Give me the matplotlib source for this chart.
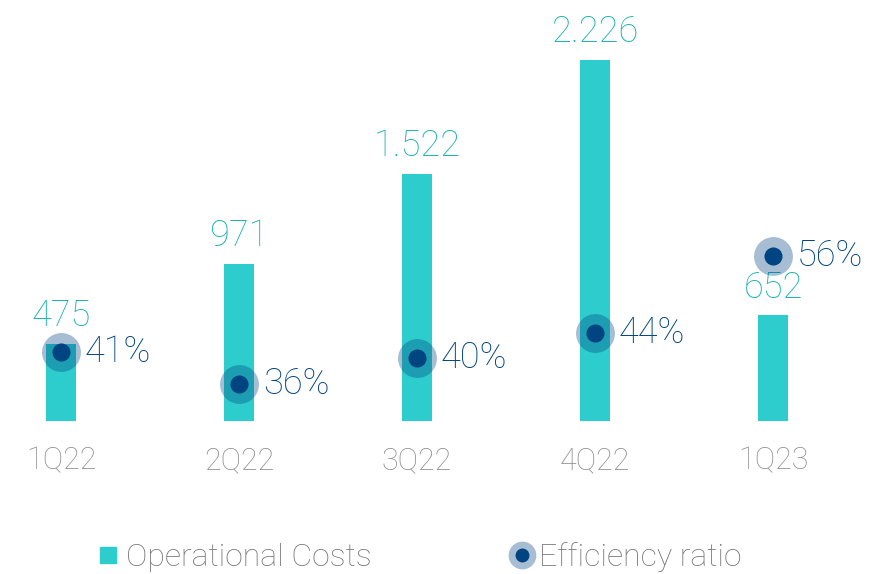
import matplotlib.pyplot as plt
from matplotlib.lines import Line2D
from matplotlib.legend_handler import HandlerTuple

quarters = ['1Q22', '2Q22', '3Q22', '4Q22', '1Q23']
op_costs = [475, 971, 1522, 2226, 652]
cost_labels = ['475', '971', '1.522', '2.226', '652']
efficiency = [41, 36, 40, 44, 56]

bar_color = '#2ECDCD'
label_teal = '#1DB3B3'
navy = '#004481'
gray = '#8F8F8F'

plt.rcParams['font.family'] = ['Roboto', 'DejaVu Sans']
plt.rcParams['font.weight'] = 'light'

fig = plt.figure(figsize=(8.72, 5.74), dpi=100)
ax = fig.add_axes([0, 0.2666, 1, 0.6289])
x = list(range(len(quarters)))

ax.bar(x, op_costs, width=0.169, color=bar_color, zorder=1)
for xi, v, lab in zip(x, op_costs, cost_labels):
    ax.annotate(lab, (xi, v), xytext=(0, 7), textcoords='offset points',
                ha='center', va='bottom', fontsize=26, color=label_teal)

ax.set_xlim(-0.343, 4.556)
ax.set_ylim(0, 2226)
ax.set_xticks(x)
ax.set_xticklabels(quarters, fontsize=22, color=gray)
ax.tick_params(axis='x', length=0, pad=18)
ax.set_yticks([])
for s in ax.spines.values():
    s.set_visible(False)

ax2 = ax.twinx()
ax2.set_ylim(30.22, 86.6)
ax2.set_yticks([])
for s in ax2.spines.values():
    s.set_visible(False)
ax2.plot(x, efficiency, 'o', ms=28, color=navy, alpha=0.35, mec='none', zorder=2)
ax2.plot(x, efficiency, 'o', ms=13, color=navy, mec='none', zorder=3)
for xi, v in zip(x, efficiency):
    ax2.annotate(f'{v}%', (xi, v), xytext=(17, 0), textcoords='offset points',
                 ha='left', va='center', fontsize=26, color=navy)

h_bar = Line2D([], [], marker='s', ls='none', ms=12, color=bar_color)
h_halo = Line2D([], [], marker='o', ls='none', ms=20, color=navy, alpha=0.35, mec='none')
h_dot = Line2D([], [], marker='o', ls='none', ms=10, color=navy, mec='none')
leg = fig.legend([h_bar, (h_halo, h_dot)], ['Operational Costs', 'Efficiency ratio'],
                 handler_map={tuple: HandlerTuple(ndivide=1)},
                 loc='center', bbox_to_anchor=(0.481, 0.03), ncol=2, frameon=False,
                 fontsize=23, handlelength=0.7, handletextpad=0.2, columnspacing=4.35)
for t in leg.get_texts():
    t.set_color('#777777')

fig.savefig('out.png', dpi=100)
